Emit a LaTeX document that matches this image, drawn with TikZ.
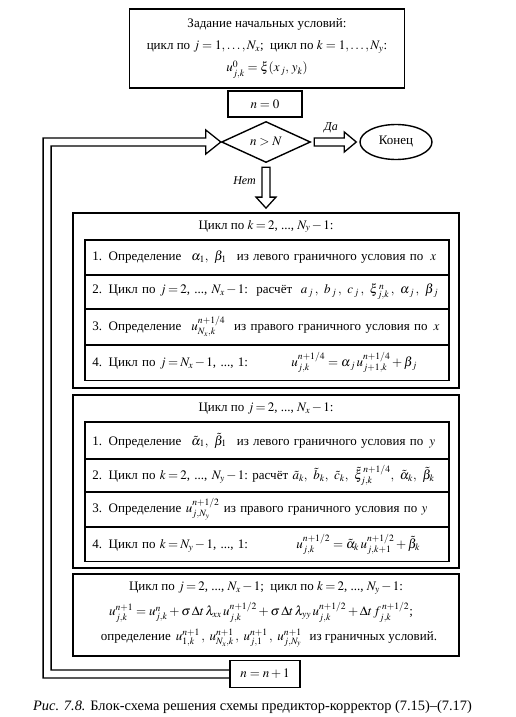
\documentclass[tikz,border=0pt]{standalone}
\usepackage{mathptmx}
\usepackage{fontspec}
\setmainfont{Liberation Serif}
\usetikzlibrary{shapes.geometric,calc}
\newcommand\mysize{\fontsize{13}{16}\selectfont}
\newcommand\tightm[1]{{\thickmuskip=3mu\relax\medmuskip=2mu\relax #1}}
\begin{document}
\begin{tikzpicture}[x=1pt,y=-1pt,
  every node/.style={font=\mysize, inner sep=0pt},
  obox/.style={draw, line width=1.8pt},
  rowbox/.style={draw, line width=0.9pt, text width=349pt, inner xsep=7pt, inner ysep=0pt, align=left, anchor=north west},
  frame/.style={draw, line width=1.3pt},
  hollow/.style={draw, line width=1.3pt, line join=miter},
  lab/.style={font=\fontsize{12}{14}\selectfont\itshape}]
\useasboundingbox[fill=white] (0,0) rectangle (515,717);

% initial block
\node[obox, minimum width=275pt, minimum height=79pt, align=center, font=\fontsize{13}{22}\selectfont] (init) at (267,48.5)
  {Задание начальных условий:\\ цикл по $j=1,\ldots,N_x$;\ \ цикл по $k=1,\ldots,N_y$:\\ $u^{0}_{j,k}=\xi(x_{\,j},\,y_k)$};
\node[obox, minimum width=74pt, minimum height=26pt] (n0) at (265,104) {$n=0$};

% condition
\node[diamond, draw, line width=1.4pt, aspect=2.2, minimum width=89pt, minimum height=41pt] (cond) at (266,142) {$n>N$};
\node[ellipse, draw, line width=1.4pt, minimum width=72pt, minimum height=35pt] (fin) at (396,142) {Конец};

% block 1
\node[obox, minimum width=386pt, minimum height=175pt] (b1) at (266,300.5) {};
\node (b1t) at (266,226.5) {\tightm{Цикл по $k=2$, ..., $N_y-1$:}};
\node[rowbox, minimum height=34pt] (r11) at (85,240) {1. Определение\hspace{10pt}$\alpha_1,\ \beta_1$\hspace{10pt}из левого граничного условия по\hspace{7pt}$x$};
\node[rowbox, minimum height=33pt] (r12) at (r11.south west) {\makebox[164pt][l]{\tightm{2. Цикл по $j=2$, ..., $N_x-1$:}}расчёт\ \ $a_{\,j}\,,\ b_{\,j}\,,\ c_{\,j}\,,\ \xi^{\,n}_{\,j,k}\,,\ \alpha_{\,j}\,,\ \beta_{\,j}$};
\node[rowbox, minimum height=35pt] (r13) at (r12.south west) {3. Определение\hspace{10pt}$u^{n+1/4}_{N_x,k}$\hspace{9pt}из правого граничного условия по\hspace{6pt}$x$};
\node[rowbox, minimum height=35pt] (r14) at (r13.south west) {\makebox[199pt][l]{\tightm{4. Цикл по $j=N_x-1$, ..., 1:}}$u^{n+1/4}_{j,k}=\alpha_{\,j}\,u^{n+1/4}_{j+1,k}+\beta_{\,j}$};
\draw[frame] (r11.north west) rectangle (r14.south east);

% block 2
\node[obox, minimum width=386pt, minimum height=173pt] (b2) at (266,481.5) {};
\node (b2t) at (266,409) {\tightm{Цикл по $j=2$, ..., $N_x-1$:}};
\node[rowbox, minimum height=36pt] (r21) at (85,422) {1. Определение\hspace{10pt}$\tilde\alpha_1,\ \tilde\beta_1$\hspace{10pt}из левого граничного условия по\hspace{6pt}$y$};
\node[rowbox, minimum height=32pt] (r22) at (r21.south west) {\mbox{\makebox[160pt][l]{\tightm{2. Цикл по $k=2$, ..., $N_y-1$:}}расчёт\ $\tilde a_k,\ \tilde b_k,\ \tilde c_k,\ \tilde\xi^{\,n+1/4}_{j,k},\ \tilde\alpha_k,\ \tilde\beta_k$}};
\node[rowbox, minimum height=34pt] (r23) at (r22.south west) {3. Определение $u^{n+1/2}_{j,N_y}$ из правого граничного условия по $y$};
\node[rowbox, minimum height=34pt] (r24) at (r23.south west) {\makebox[204pt][l]{\tightm{4. Цикл по $k=N_y-1$, ..., 1:}}$u^{n+1/2}_{j,k}=\tilde\alpha_k\,u^{n+1/2}_{j,k+1}+\tilde\beta_k$};
\draw[frame] (r21.north west) rectangle (r24.south east);

% block 3
\node[obox, minimum width=386pt, minimum height=82pt] (b3) at (266,615) {};
\node (b3a) at (266,588) {\tightm{Цикл по $j=2$, ..., $N_x-1$;\ \ цикл по $k=2$, ..., $N_y-1$:}};
\node (b3b) at (261,612) {$u^{n+1}_{j,k}=u^{n}_{j,k}+\sigma\,\Delta t\,\lambda_{xx}\,u^{n+1/2}_{j,k}+\sigma\,\Delta t\,\lambda_{yy}\,u^{n+1/2}_{j,k}+\Delta t\,f^{\,n+1/2}_{j,k}$;};
\node (b3c) at (269,638) {определение\hspace{5pt}$u^{n+1}_{1,k}\,,\ u^{n+1}_{N_x,k}\,,\ u^{n+1}_{j,1}\,,\ u^{n+1}_{j,N_y}$\hspace{8pt}из граничных условий.};

\node[obox, minimum width=70pt, minimum height=27pt] (inc) at (265,674) {$n=n+1$};

% hollow arrows
\draw[hollow] ($(cond.east)+(3,-4)$) -- ($(fin.west)+(-15,-4)$) -- ($(fin.west)+(-15,-10)$) -- ($(fin.west)+(-3,0)$) -- ($(fin.west)+(-15,10)$) -- ($(fin.west)+(-15,4)$) -- ($(cond.east)+(3,4)$) -- cycle;
\node[lab] (yes) at (331,128) {Да};
\draw[hollow] ($(cond.south)+(-4,4)$) -- ($(b1.north)+(-4,-15)$) -- ($(b1.north)+(-10,-15)$) -- ($(b1.north)+(0,-4)$) -- ($(b1.north)+(10,-15)$) -- ($(b1.north)+(4,-15)$) -- ($(cond.south)+(4,4)$) -- cycle;
\node[lab, anchor=east] (no) at (256,181) {Нет};
\draw[hollow] ($(inc.west)+(0,4)$) -- ++(-186,0) |- ($(cond.west)+(-15,-4)$) -- ($(cond.west)+(-15,-12)$) -- (cond.west) -- ($(cond.west)+(-15,12)$) -- ($(cond.west)+(-15,4)$) -| ($(inc.west)+(-178,-4)$) -- ($(inc.west)+(0,-4)$);

% caption
\node (cap) at (252.5,707) {\fontsize{14.4}{16}\selectfont\textit{Рис. 7.8.} Блок-схема решения схемы предиктор-корректор (7.15)–(7.17)};
\end{tikzpicture}
\end{document}
